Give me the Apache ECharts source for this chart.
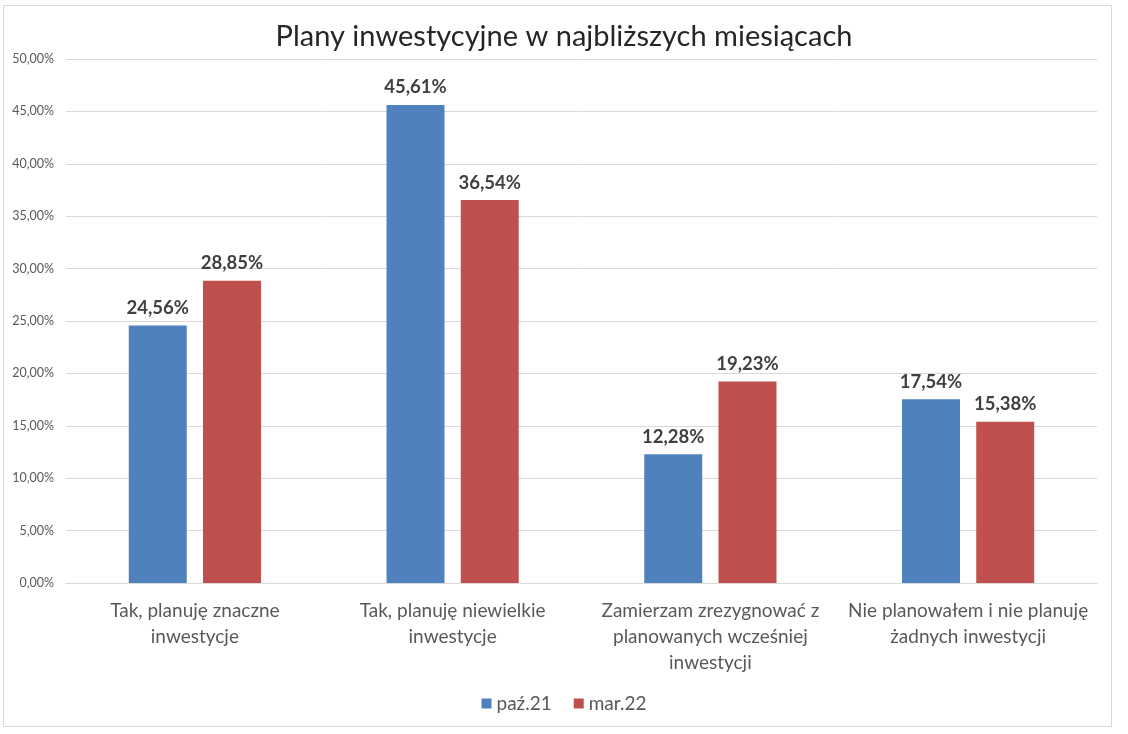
<!DOCTYPE html>
<html>
<head>
<meta charset="utf-8">
<script src="https://cdn.jsdelivr.net/npm/echarts@6/dist/echarts.min.js"></script>
<style>
  html, body { margin: 0; padding: 0; background: #fff; }
  #wrap { position: absolute; left: 3px; top: 5px; width: 1109px; height: 722px; border: 1px solid #d9d9d9; box-sizing: border-box; }
  #main { width: 1128px; height: 734px; }
</style>
</head>
<body>
<div id="wrap"></div>
<div id="main"></div>
<script>
// chart data
const categories = [
  'Tak, planuję znaczne\ninwestycje',
  'Tak, planuję niewielkie\ninwestycje',
  'Zamierzam zrezygnować z\nplanowanych wcześniej\ninwestycji',
  'Nie planowałem i nie planuję\nżadnych inwestycji'
];
const seriesNames = ['paź.21', 'mar.22'];
const oct21 = [24.56, 45.61, 12.28, 17.54];
const mar22 = [28.85, 36.54, 19.23, 15.38];

const fmt = v => v.toFixed(2).replace('.', ',') + '%';
const font = 'Lato, "Open Sans", sans-serif';

let chart = echarts.init(document.getElementById('main'));
chart.setOption({
  animation: false,
  title: {
    text: 'Plany inwestycyjne w najbliższych miesiącach',
    left: 'center',
    top: 17,
    textStyle: { fontFamily: font, fontSize: 29, fontWeight: 'normal', color: '#262626' }
  },
  legend: {
    bottom: 16,
    left: 'center',
    itemWidth: 10,
    itemHeight: 10,
    itemGap: 22,
    icon: 'rect',
    textStyle: { fontFamily: font, fontSize: 19, color: '#595959' }
  },
  grid: { left: 66, right: 31, top: 59, bottom: 151 },
  xAxis: {
    type: 'category',
    data: categories,
    axisTick: { show: false },
    axisLine: { lineStyle: { color: '#d9d9d9' } },
    axisLabel: { fontFamily: font, fontSize: 19, color: '#595959', margin: 15, lineHeight: 26, interval: 0 }
  },
  yAxis: {
    type: 'value',
    min: 0,
    max: 50,
    interval: 5,
    axisLabel: { fontFamily: font, fontSize: 12.5, color: '#595959', formatter: fmt, margin: 12 },
    splitLine: { lineStyle: { color: '#d9d9d9' } }
  },
  series: [
    {
      name: seriesNames[0],
      type: 'bar',
      data: oct21,
      barWidth: '22.5%',
      barGap: '28%',
      itemStyle: { color: '#4f81bd' },
      label: { show: true, position: 'top', formatter: p => fmt(p.value), fontFamily: font, fontSize: 18.5, fontWeight: 'bold', color: '#404040', distance: 8 }
    },
    {
      name: seriesNames[1],
      type: 'bar',
      data: mar22,
      barWidth: '22.5%',
      itemStyle: { color: '#c0504d' },
      label: { show: true, position: 'top', formatter: p => fmt(p.value), fontFamily: font, fontSize: 18.5, fontWeight: 'bold', color: '#404040', distance: 8 }
    }
  ]
});
</script>
</body>
</html>
